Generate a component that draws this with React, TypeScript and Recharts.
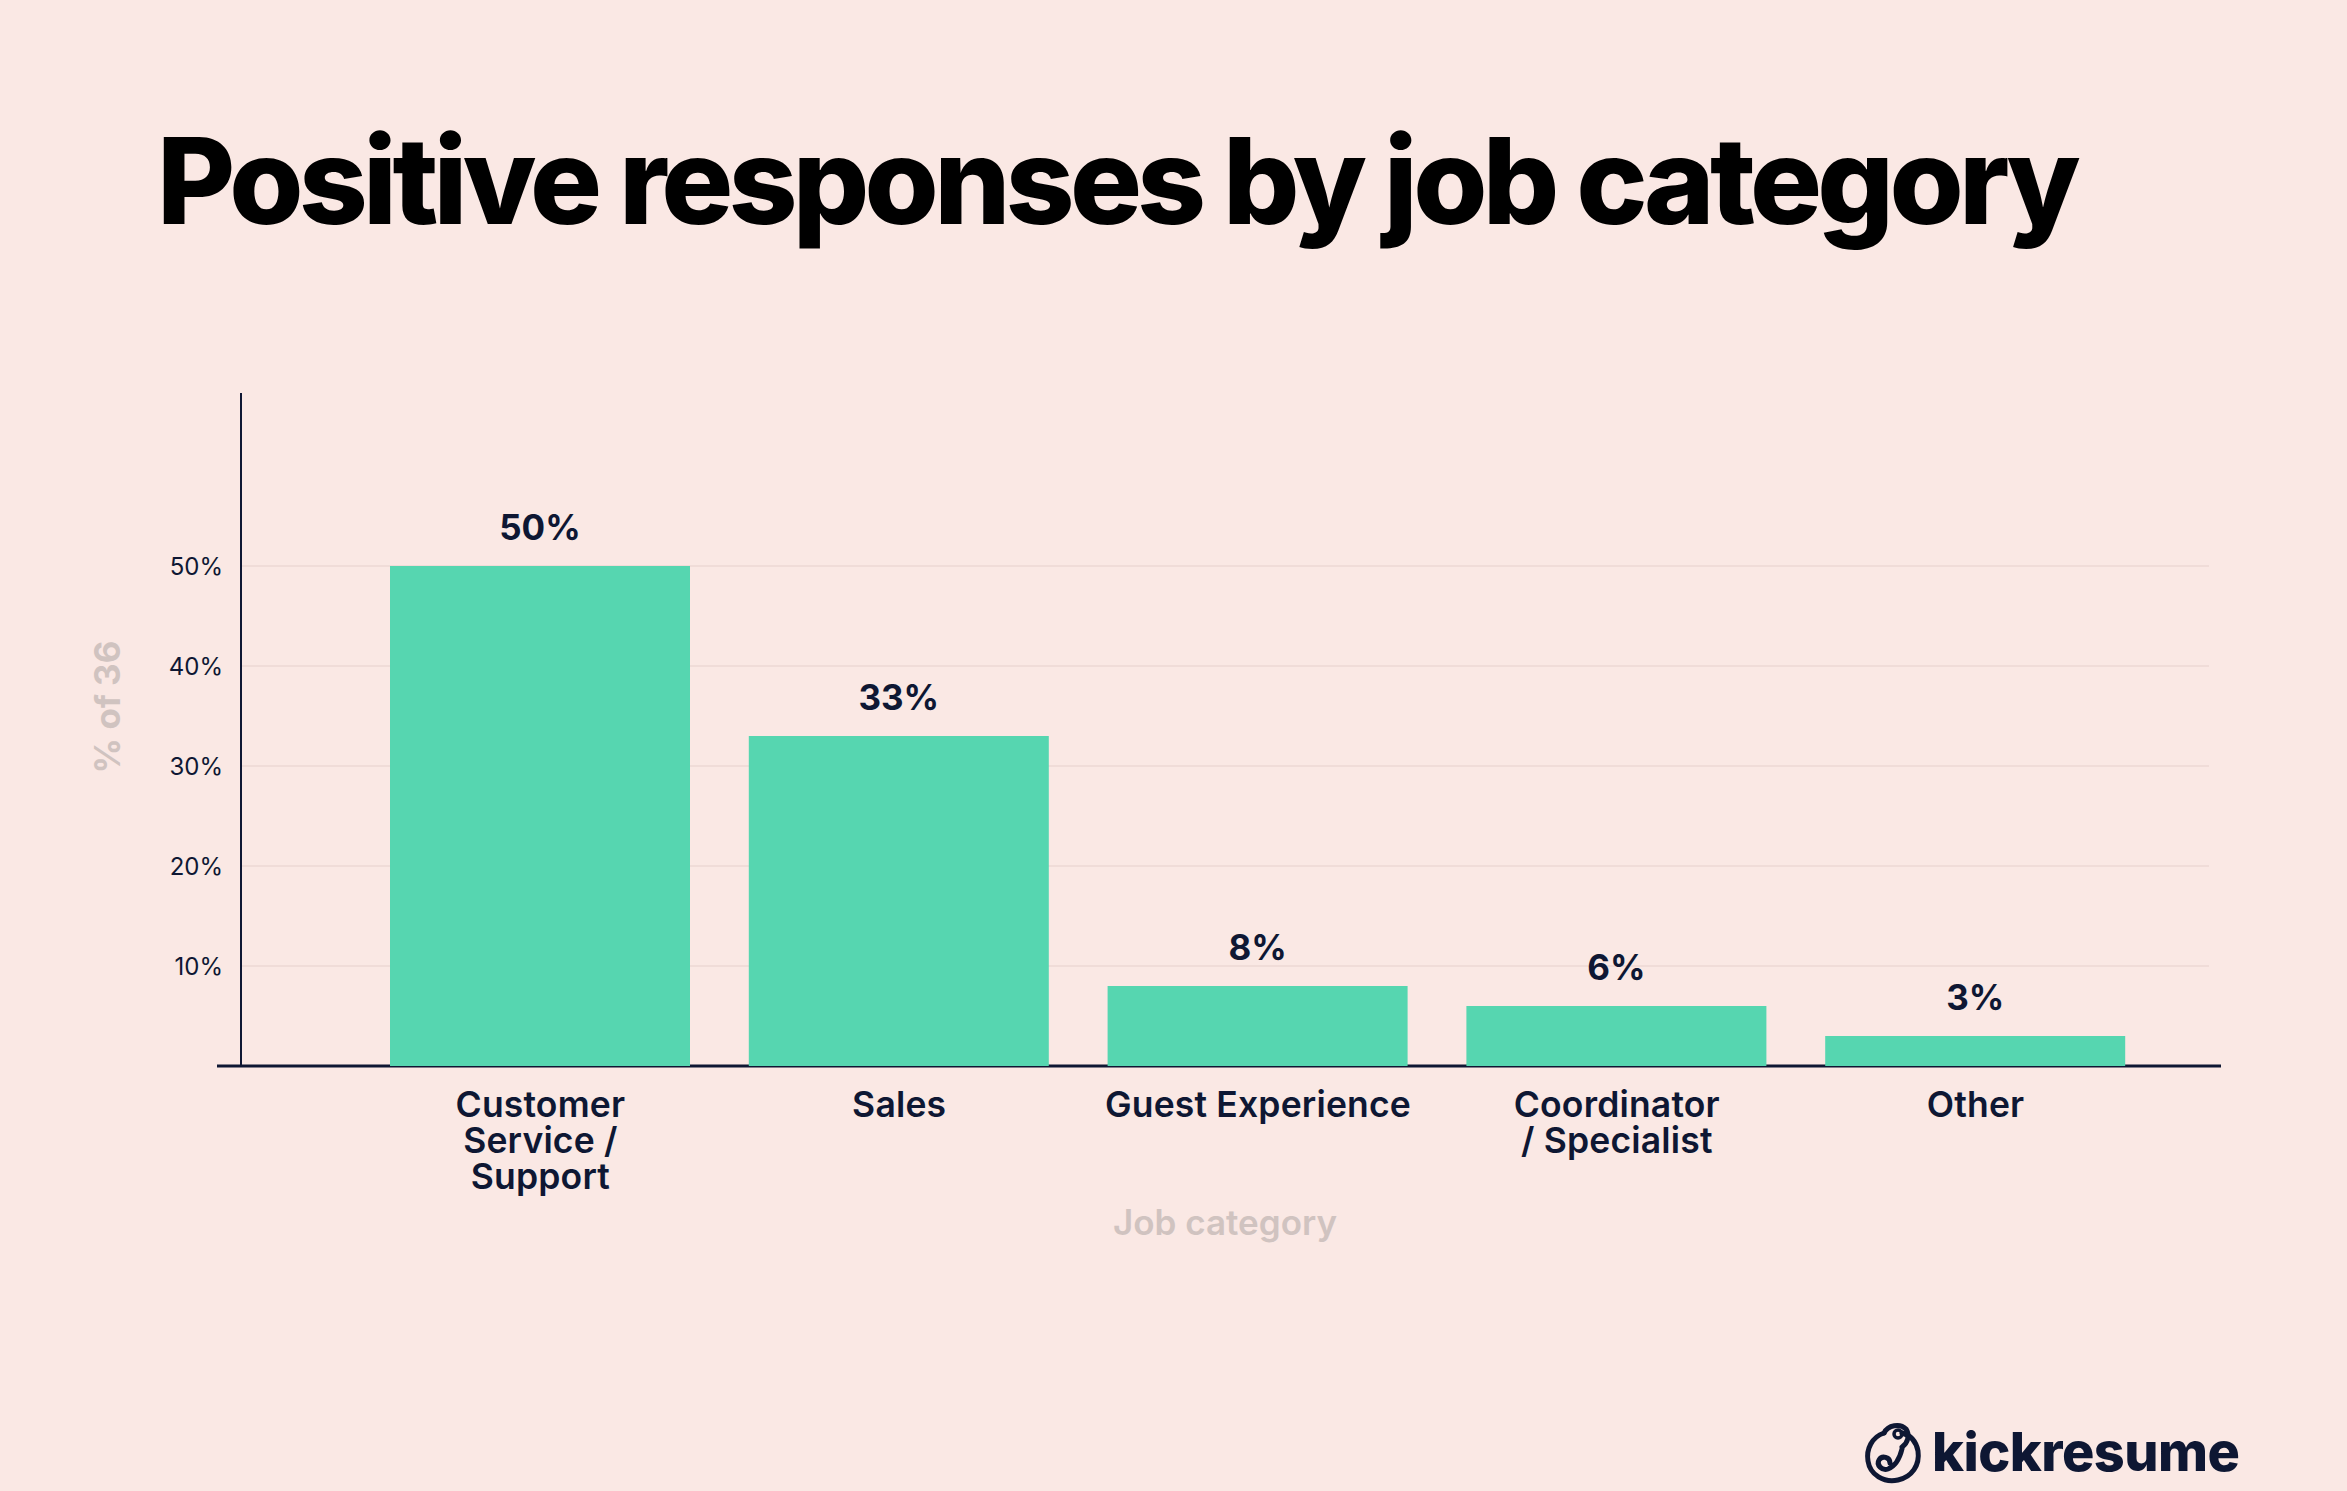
import React from "react";
import {
  BarChart,
  Bar,
  XAxis,
  YAxis,
  CartesianGrid,
  LabelList,
  Customized,
} from "recharts";

// chart data
const categories = ["Customer Service / Support", "Sales", "Guest Experience", "Coordinator / Specialist", "Other"];
const shares = [50, 33, 8, 6, 3];
const tickLines = [["Customer", "Service /", "Support"], ["Sales"], ["Guest Experience"], ["Coordinator", "/ Specialist"], ["Other"]];
const yTicks = [10, 20, 30, 40, 50];
const yMax = 67.3;

const W = 2347;
const H = 1491;
const BG = "#fae8e4";
const NAVY = "#0e1733";
const BAR = "#56d6b0";
const GRID = "#ecd8d4";
const MUTED = "#d0c3c0";
const FONT = "Inter, 'Noto Sans', sans-serif";

// layout
const PLOT_LEFT = 241;
const PLOT_RIGHT = 2209;
const PLOT_TOP = 393;
const PLOT_BOTTOM = 1066;
const YAXIS_W = 120;
const XAXIS_H = 200;

const data = categories.map((c, i) => ({ category: c, value: shares[i] }));

// grid only at the labelled ticks (no line at the top edge)
function gridRows(props: any) {
  const yAxis = props?.yAxis;
  if (yAxis && typeof yAxis.scale === "function") return yTicks.map((t) => yAxis.scale(t));
  const top = props?.offset?.top ?? PLOT_TOP;
  const h = props?.offset?.height ?? PLOT_BOTTOM - PLOT_TOP;
  return yTicks.map((t) => top + h * (1 - t / yMax));
}

function CategoryTick(props: any) {
  const { x, payload } = props;
  const lines = tickLines[payload.index] ?? [payload.value];
  return (
    <text
      x={x}
      y={PLOT_BOTTOM + 51}
      textAnchor="middle"
      fill={NAVY}
      style={{ fontFamily: FONT, fontSize: 35.5, fontWeight: 600, letterSpacing: "0.005em" }}
    >
      {lines.map((l, i) => (
        <tspan key={i} x={x} dy={i === 0 ? 0 : 36}>
          {l}
        </tspan>
      ))}
    </text>
  );
}

// x axis line runs a bit past the plot on both sides
function Baseline() {
  return <line x1={217} x2={2221} y1={PLOT_BOTTOM} y2={PLOT_BOTTOM} stroke={NAVY} strokeWidth={3} />;
}

function YTitle() {
  const cx = 107;
  const cy = 707;
  return (
    <text
      x={cx}
      y={cy}
      transform={`rotate(-90, ${cx}, ${cy})`}
      textAnchor="middle"
      dominantBaseline="central"
      fill={MUTED}
      style={{ fontFamily: FONT, fontSize: 35, fontWeight: 700 }}
    >
      % of 36
    </text>
  );
}

function XTitle() {
  return (
    <text
      x={(PLOT_LEFT + PLOT_RIGHT) / 2}
      y={1235}
      textAnchor="middle"
      fill={MUTED}
      style={{ fontFamily: FONT, fontSize: 35, fontWeight: 600 }}
    >
      Job category
    </text>
  );
}

function Logo() {
  return (
    <div style={{ position: "absolute", left: 1862, top: 1419, display: "flex", alignItems: "center" }}>
      <svg width={62} height={66} viewBox="0 0 62 66">
        <path
          d="M22 14 C 10 18, 4 30, 6 42 C 8 56, 22 64, 36 61 C 50 58, 58 46, 56 32 C 54 22, 48 16, 40 14"
          fill="none"
          stroke={NAVY}
          strokeWidth={5}
          strokeLinecap="round"
        />
        <path d="M22 14 C 26 6, 38 4, 44 10 C 48 16, 46 24, 40 28" fill="none" stroke={NAVY} strokeWidth={5} strokeLinecap="round" />
        <circle cx={36} cy={15} r={4} fill="none" stroke={NAVY} strokeWidth={3.5} />
        <path d="M28 44 C 28 38, 20 36, 17 41 C 14 46, 20 52, 26 50 C 34 47, 38 38, 40 30" fill="none" stroke={NAVY} strokeWidth={5} strokeLinecap="round" />
      </svg>
      <span
        style={{
          fontFamily: FONT,
          fontSize: 54,
          fontWeight: 800,
          color: NAVY,
          letterSpacing: "-0.01em",
          marginLeft: 8,
          lineHeight: 1,
        }}
      >
        kickresume
      </span>
    </div>
  );
}

export default function App() {
  return (
    <div style={{ position: "absolute", left: 0, top: 0, width: W, height: H, background: BG, overflow: "hidden" }}>
      <div
        style={{
          position: "absolute",
          left: 157,
          top: 121,
          fontFamily: FONT,
          fontSize: 120,
          fontWeight: 800,
          lineHeight: 1,
          letterSpacing: "-0.039em",
          color: "#000",
          whiteSpace: "nowrap",
        }}
      >
        Positive responses by job category
      </div>

      <div style={{ position: "absolute", left: 0, top: 0 }}>
        <BarChart
          width={W}
          height={H}
          data={data}
          margin={{
            top: PLOT_TOP,
            right: W - PLOT_RIGHT,
            bottom: H - PLOT_BOTTOM - XAXIS_H,
            left: PLOT_LEFT - YAXIS_W,
          }}
        >
          <CartesianGrid
            horizontal
            vertical={false}
            stroke={GRID}
            strokeWidth={1.5}
            horizontalCoordinatesGenerator={gridRows}
          />
          <XAxis
            dataKey="category"
            type="category"
            height={XAXIS_H}
            axisLine={false}
            tickLine={false}
            interval={0}
            padding={{ left: 120, right: 54 }}
            tick={<CategoryTick />}
            label={{ content: () => <XTitle /> }}
          />
          <YAxis
            width={YAXIS_W}
            domain={[0, yMax]}
            ticks={yTicks}
            allowDataOverflow
            axisLine={{ stroke: NAVY, strokeWidth: 2 }}
            tickLine={false}
            tickSize={0}
            tickMargin={18}
            tickFormatter={(v) => `${v}%`}
            tick={{ fill: NAVY, fontSize: 24, fontFamily: FONT, fontWeight: 400 }}
            label={{ content: () => <YTitle /> }}
          />
          <Bar dataKey="value" fill={BAR} barSize={300} isAnimationActive={false}>
            <LabelList
              dataKey="value"
              position="top"
              offset={26}
              formatter={(v: any) => `${v}%`}
              style={{ fill: NAVY, fontSize: 35, fontWeight: 700, fontFamily: FONT }}
            />
          </Bar>
          <Customized component={<Baseline />} />
        </BarChart>
      </div>

      <Logo />
    </div>
  );
}
